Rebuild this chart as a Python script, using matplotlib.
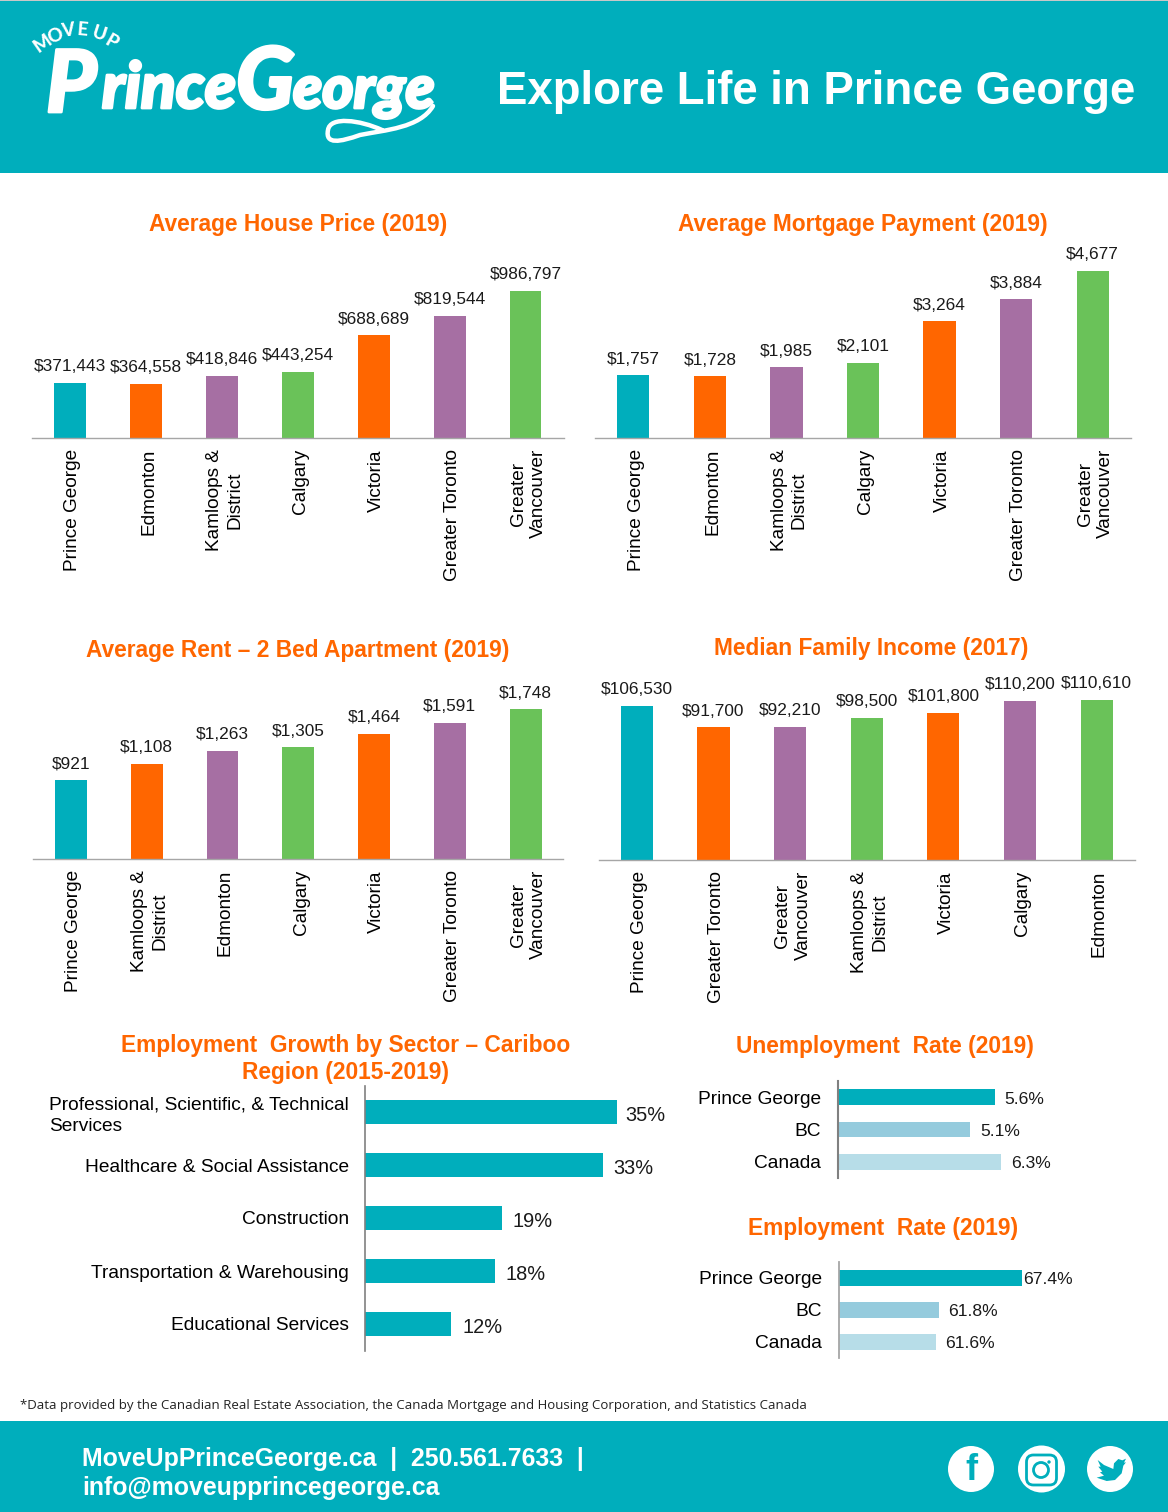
#!/usr/bin/env python3

import numpy as np
import matplotlib
matplotlib.use("Agg")
import matplotlib.pyplot as plt
import matplotlib.patheffects as pe
from matplotlib.patches import Circle, FancyBboxPatch, PathPatch, Polygon, Rectangle
from matplotlib.path import Path
from matplotlib.transforms import ScaledTranslation

W, H = 1168, 1512

TEAL = "#00AEBC"
ORANGE = "#FF6600"
PURPLE = "#A66FA3"
GREEN = "#6AC259"
LIGHT1 = "#95CBDD"
LIGHT2 = "#B7DDE8"

plt.rcParams["font.family"] = "Liberation Sans"
plt.rcParams["text.color"] = "#1a1a1a"

# Data
house_cities = ["Prince George", "Edmonton", "Kamloops &\nDistrict", "Calgary",
                "Victoria", "Greater Toronto", "Greater\nVancouver"]
house_price = [371443, 364558, 418846, 443254, 688689, 819544, 986797]

mortgage_payment = [1757, 1728, 1985, 2101, 3264, 3884, 4677]

rent_cities = ["Prince George", "Kamloops &\nDistrict", "Edmonton", "Calgary",
               "Victoria", "Greater Toronto", "Greater\nVancouver"]
rent = [921, 1108, 1263, 1305, 1464, 1591, 1748]

income_cities = ["Prince George", "Greater Toronto", "Greater\nVancouver",
                 "Kamloops &\nDistrict", "Victoria", "Calgary", "Edmonton"]
income = [106530, 91700, 92210, 98500, 101800, 110200, 110610]

sectors = ["Professional, Scientific, & Technical\nServices",
           "Healthcare & Social Assistance", "Construction",
           "Transportation & Warehousing", "Educational Services"]
sector_growth = [35, 33, 19, 18, 12]

regions = ["Prince George", "BC", "Canada"]
# the bars in the source do not follow their printed labels, so both are kept
unemployment_bars = [5.6, 4.71, 5.82]
unemployment_labels = ["5.6%", "5.1%", "6.3%"]
employment_rate = [67.4, 61.8, 61.6]

column_colors = [TEAL, ORANGE, PURPLE, GREEN, ORANGE, PURPLE, GREEN]
region_colors = [TEAL, LIGHT1, LIGHT2]


def px_axes(left, top, right, bottom):
    ax = fig.add_axes([left / W, 1 - bottom / H, (right - left) / W, (bottom - top) / H])
    ax.patch.set_visible(False)
    return ax


def column_chart(box, cats, vals, ymax, fmt):
    ax = px_axes(*box)
    x = np.arange(len(cats))
    ax.bar(x, vals, width=0.42, color=column_colors)
    for xi, v in zip(x, vals):
        ax.annotate(fmt.format(v), (xi, v), xytext=(0, 11.6), textcoords="offset points",
                    ha="center", va="center", fontsize=12.4)
    ax.set(xlim=(-0.5, len(cats) - 0.5), ylim=(0, ymax))
    ax.set_xticks(x, cats, rotation=90, fontsize=13.7, ha="center", va="top",
                  multialignment="center", linespacing=1.25)
    ax.set_yticks([])
    ax.tick_params(axis="x", length=0, pad=8)
    # nudge the rotated labels to the right
    for lab in ax.get_xticklabels():
        lab.set_transform(lab.get_transform() + ScaledTranslation(0.028, 0, fig.dpi_scale_trans))
    for s in ["top", "left", "right"]:
        ax.spines[s].set_visible(False)
    ax.spines["bottom"].set_color("#A6A6A6")
    ax.spines["bottom"].set_linewidth(1)
    return ax


def bar_chart(box, cats, vals, labels, xlim, colors, height, gaps, spine, lw, fs, pad, dy):
    ax = px_axes(*box)
    y = np.arange(len(cats))
    ax.barh(y, vals, height=height, color=colors)
    for yi, v, lab, g in zip(y, vals, labels, gaps):
        ax.annotate(lab, (v, yi), xytext=(g * 0.72, dy), textcoords="offset points",
                    ha="left", va="center", fontsize=fs)
    ax.set(xlim=xlim, ylim=(len(cats) - 0.5, -0.5))
    ax.set_yticks(y, cats, fontsize=13.8, ha="right", multialignment="left", linespacing=1.3)
    ax.set_xticks([])
    ax.tick_params(axis="y", length=0, pad=pad)
    for s in ["top", "bottom", "right"]:
        ax.spines[s].set_visible(False)
    ax.spines["left"].set_color(spine)
    ax.spines["left"].set_linewidth(lw)
    return ax


fig = plt.figure(figsize=(W / 100, H / 100), dpi=100, facecolor="white")

# page furniture in pixel coordinates
bg = fig.add_axes([0, 0, 1, 1])
bg.set(xlim=(0, W), ylim=(H, 0))
bg.axis("off")
bg.add_patch(Rectangle((0, 1), W, 172, color=TEAL, lw=0))
bg.add_patch(Rectangle((0, 0), W, 1, color="#C8C8C8", lw=0))
bg.add_patch(Rectangle((0, 1421), W, 91, color=TEAL, lw=0))

bg.text(816, 92, "Explore Life in Prince George", color="white", fontsize=32.9,
        fontweight="bold", ha="center", va="center")

# logo
logo = dict(color="white", family="Lato", weight="black", style="italic", va="baseline",
            ha="left", path_effects=[pe.withStroke(linewidth=2, foreground="white")])
bg.text(46, 112, "P", fontsize=62, **logo)
bg.text(102, 108, "rince", fontsize=46, **logo)
bg.text(236, 109, "G", fontsize=62, **logo)
bg.text(293, 108, "eorge", fontsize=43, **logo)
for ch, lx, ly, rot in [("M", 43, 43, 35), ("O", 55, 36, 22), ("V", 68, 31, 8),
                        ("E", 82, 30, -5), ("U", 99, 34, -18), ("P", 111, 42, -30)]:
    bg.text(lx, ly, ch, color="white", family="Lato", weight="black", fontsize=13.5,
            rotation=rot, ha="center", va="center")
swoosh = Path([(433, 106), (420, 128), (385, 130), (360, 135), (340, 142), (325, 145),
               (328, 130), (330, 116), (360, 120), (382, 130)],
              [Path.MOVETO] + [Path.CURVE4] * 9)
bg.add_patch(PathPatch(swoosh, fc="none", ec="white", lw=3.2, capstyle="round"))

# titles
title = dict(color=ORANGE, fontsize=16.4, fontweight="bold", ha="center", va="center")
bg.text(298, 225, "Average House Price (2019)", **title)
bg.text(863, 225, "Average Mortgage Payment (2019)", **title)
bg.text(298, 650, "Average Rent – 2 Bed Apartment (2019)", **title)
bg.text(871, 649, "Median Family Income (2017)", **title)
bg.text(346, 1059, "Employment  Growth by Sector – Cariboo\nRegion (2015-2019)",
        linespacing=1.17, **title)
bg.text(885, 1046, "Unemployment  Rate (2019)", **title)
bg.text(883, 1228, "Employment  Rate (2019)", **title)

# footnote and footer
bg.text(20, 1406, "*Data provided by the Canadian Real Estate Association, the Canada Mortgage "
        "and Housing Corporation, and Statistics Canada", family="Open Sans", fontsize=9.58,
        ha="left", va="center", color="#222222")
foot = dict(color="white", fontsize=17.9, fontweight="bold", ha="left", va="center")
bg.text(82, 1459, "MoveUpPrinceGeorge.ca  |  250.561.7633  |", **foot)
bg.text(82, 1488, "info@moveupprincegeorge.ca", **foot)

# social icons
for cx, r in [(971, 23), (1041.5, 23.5), (1110, 23)]:
    bg.add_patch(Circle((cx, 1469), r, color="white", lw=0))
bg.text(971, 1470, "f", color=TEAL, fontsize=26, fontweight="bold", ha="center", va="center")
bg.add_patch(FancyBboxPatch((1026.5, 1455), 30, 30, boxstyle="round,pad=0,rounding_size=7",
                            fc="none", ec=TEAL, lw=2))
bg.add_patch(Circle((1041, 1470), 7.5, fc="none", ec=TEAL, lw=2))
bg.add_patch(Circle((1049, 1462), 1.7, color=TEAL, lw=0))
bird = [(593, 105), (612, 120), (640, 132), (642, 115), (655, 102), (667, 106), (678, 101),
        (672, 113), (678, 112), (670, 122), (665, 145), (645, 165), (620, 168), (590, 158),
        (612, 152), (600, 142), (607, 140), (595, 125), (602, 125)]
bg.add_patch(Polygon([(900 + a / 3, 1425 + b / 3) for a, b in bird], color=TEAL, lw=0))

# column charts
column_chart((32, 250, 563.5, 438), house_cities, house_price, 1262000, "${:,}")
column_chart((595, 250, 1131, 438), house_cities, mortgage_payment, 5265, "${:,}")
column_chart((33, 671, 563.5, 859), rent_cities, rent, 2195, "${:,}")
column_chart((598.5, 671, 1135, 860), income_cities, income, 130660, "${:,}")

# horizontal bars
bar_chart((365, 1085.5, 665, 1350.5), sectors, sector_growth,
          ["{}%".format(v) for v in sector_growth], (0, 41.67), TEAL, 0.45,
          [8, 11, 11, 11, 11], "#808080", 1.2, 14.4, 11.5, -2.4)
bar_chart((838, 1081, 1100, 1178), regions, unemployment_bars, unemployment_labels,
          (0, 9.35), region_colors, 0.48, [9, 10, 10], "#808080", 1.5, 12.6, 12, -1.4)
bar_chart((839, 1262, 1100, 1358), regions, employment_rate,
          ["{}%".format(v) for v in employment_rate], (55, 55 + 261 / 14.76), region_colors,
          0.48, [1, 9, 9], "#A6A6A6", 1.3, 12.6, 12.5, -1.4)

fig.savefig("out.png", dpi=100)
plt.close()
